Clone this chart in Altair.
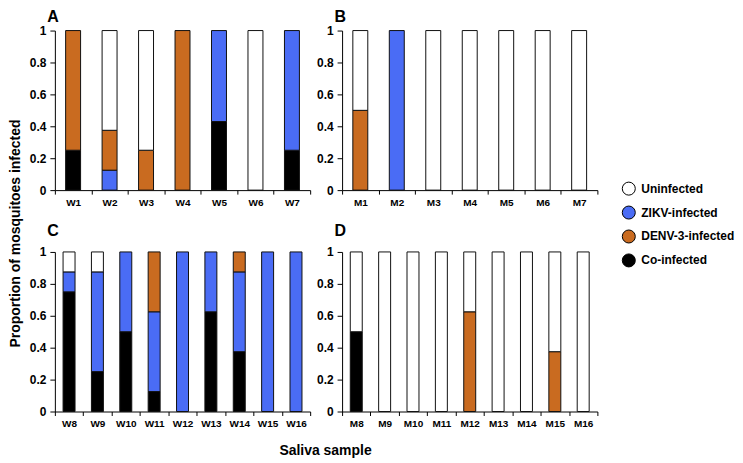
import altair as alt
import pandas as pd

FONT = "Liberation Sans"

legend_order = ["Uninfected", "ZIKV-infected", "DENV-3-infected", "Co-infected"]
colors = ["#FFFFFF", "#4A6CF5", "#C96B20", "#000000"]
stack_rank = {"Co-infected": 0, "ZIKV-infected": 1, "DENV-3-infected": 2, "Uninfected": 3}

# Panel A
a_samples = ["W1", "W2", "W3", "W4", "W5", "W6", "W7"]
a_co = [0.25, 0, 0, 0, 0.43, 0, 0.25]
a_zikv = [0, 0.125, 0, 0, 0.57, 0, 0.75]
a_denv = [0.75, 0.25, 0.25, 1, 0, 0, 0]
a_un = [0, 0.625, 0.75, 0, 0, 1, 0]

# Panel B
b_samples = ["M1", "M2", "M3", "M4", "M5", "M6", "M7"]
b_co = [0, 0, 0, 0, 0, 0, 0]
b_zikv = [0, 1, 0, 0, 0, 0, 0]
b_denv = [0.5, 0, 0, 0, 0, 0, 0]
b_un = [0.5, 0, 1, 1, 1, 1, 1]

# Panel C
c_samples = ["W8", "W9", "W10", "W11", "W12", "W13", "W14", "W15", "W16"]
c_co = [0.75, 0.25, 0.5, 0.125, 0, 0.625, 0.375, 0, 0]
c_zikv = [0.125, 0.625, 0.5, 0.5, 1, 0.375, 0.5, 1, 1]
c_denv = [0, 0, 0, 0.375, 0, 0, 0.125, 0, 0]
c_un = [0.125, 0.125, 0, 0, 0, 0, 0, 0, 0]

# Panel D
d_samples = ["M8", "M9", "M10", "M11", "M12", "M13", "M14", "M15", "M16"]
d_co = [0.5, 0, 0, 0, 0, 0, 0, 0, 0]
d_zikv = [0, 0, 0, 0, 0, 0, 0, 0, 0]
d_denv = [0, 0, 0, 0, 0.625, 0, 0, 0.375, 0]
d_un = [0.5, 1, 1, 1, 0.375, 1, 1, 0.625, 1]

y_ticks = [0, 0.2, 0.4, 0.6, 0.8, 1]


def long_df(samples, co, zikv, denv, un):
    rows = []
    for i, s in enumerate(samples):
        for status, vals in [("Co-infected", co), ("ZIKV-infected", zikv),
                             ("DENV-3-infected", denv), ("Uninfected", un)]:
            v = vals[i]
            if v > 0:
                rows.append({"sample": s, "status": status, "value": v,
                             "ord": stack_rank[status]})
    return pd.DataFrame(rows)


def panel(letter, samples, co, zikv, denv, un, bar_size, title_offset):
    df = long_df(samples, co, zikv, denv, un)
    return alt.Chart(df).mark_bar(size=bar_size, stroke="#111111", strokeWidth=1).encode(
        x=alt.X("sample:N", sort=samples,
                scale=alt.Scale(paddingInner=0, paddingOuter=0),
                axis=alt.Axis(title=None, labelAngle=0, tickBand="extent",
                              labelFont=FONT, labelFontWeight="bold", labelFontSize=10,
                              labelColor="#000", domainColor="#000", tickColor="#000",
                              tickSize=4, labelPadding=3)),
        y=alt.Y("value:Q", stack="zero", scale=alt.Scale(domain=[0, 1], nice=False),
                axis=alt.Axis(title=None, values=y_ticks, format="~g", grid=False,
                              labelFont=FONT, labelFontWeight="bold", labelFontSize=12,
                              labelColor="#000", domainColor="#000", tickColor="#000",
                              tickSize=5, labelPadding=4)),
        color=alt.Color("status:N", scale=alt.Scale(domain=legend_order, range=colors),
                        legend=alt.Legend(title=None, orient="none", legendX=568, legendY=151,
                                          symbolType="circle", symbolSize=170,
                                          symbolStrokeColor="#000", symbolStrokeWidth=1,
                                          labelFont=FONT, labelFontWeight="bold",
                                          labelFontSize=12, labelColor="#000",
                                          rowPadding=5, labelOffset=5)),
        order=alt.Order("ord:Q"),
    ).properties(
        width=256, height=160,
        title=alt.TitleParams(letter, anchor="start", fontSize=16, fontWeight="bold",
                              font=FONT, color="#000", offset=title_offset, dx=18),
    )


pa = panel("A", a_samples, a_co, a_zikv, a_denv, a_un, 15, 0)
pb = panel("B", b_samples, b_co, b_zikv, b_denv, b_un, 15, 0)
pc = panel("C", c_samples, c_co, c_zikv, c_denv, c_un, 12, 7)
pd_ = panel("D", d_samples, d_co, d_zikv, d_denv, d_un, 12, 7)

row1 = alt.hconcat(pa, pb, spacing=5)
row2 = alt.hconcat(pc, pd_, spacing=5)
grid = alt.vconcat(row1, row2, spacing=16).properties(
    title=alt.TitleParams("Saliva sample", orient="bottom", anchor="middle", fontSize=14,
                          fontWeight="bold", font=FONT, color="#000", offset=16, dx=12)
)

chart = alt.hconcat(grid).properties(
    title=alt.TitleParams("Proportion of mosquitoes infected", orient="left", anchor="middle",
                          fontSize=14, fontWeight="bold", font=FONT, color="#000", offset=6),
    padding={"left": 1, "top": 0, "right": 0, "bottom": 0},
).configure_view(stroke=None)

chart.save("out.html", embed_options={"renderer": "svg", "actions": False})
